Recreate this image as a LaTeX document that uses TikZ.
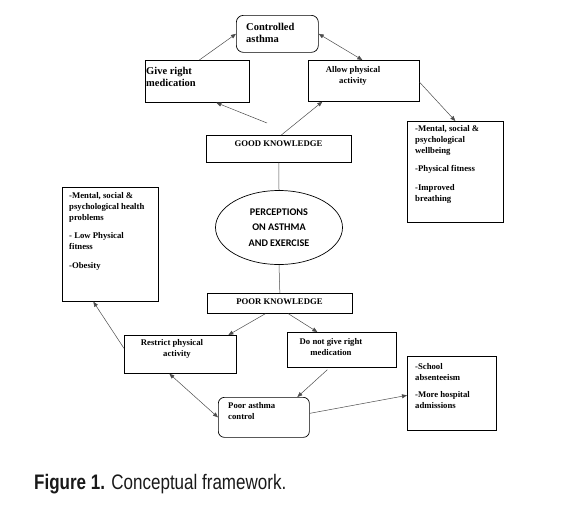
\documentclass[tikz,border=0pt]{standalone}
\usepackage{fontspec}
\usepackage{graphicx}
\setmainfont{Liberation Serif}
\newfontfamily\carlitofont{Carlito}
\newfontfamily\capfont{Liberation Sans}
\usetikzlibrary{arrows.meta,calc,shapes.geometric}
\begin{document}
\begin{tikzpicture}[x=1pt,y=-1pt,
  box/.style={draw=black,line width=0.7pt,inner sep=0,anchor=north west},
  rbox/.style={box,rounded corners=7pt},
  txt/.style={inner sep=0,align=left,anchor=north west,font=\bfseries\fontsize{8.7}{11}\selectfont},
  bigtxt/.style={txt,font=\bfseries\fontsize{10.5}{12.5}\selectfont},
  ctxt/.style={txt,align=center,anchor=north},
  conn/.style={draw=black!70,line width=0.5pt},
  arr/.style={conn,-{Triangle[length=5pt,width=4pt]}},
  darr/.style={conn,{Triangle[length=5pt,width=4pt]}-{Triangle[length=5pt,width=4pt]}}]
\useasboundingbox (0,0) rectangle (569,504);
% boxes
\node[rbox,minimum width=82pt,minimum height=37pt] (ca) at (236,15) {};
\node[box,minimum width=104pt,minimum height=42pt] (gm) at (145,60) {};
\node[box,minimum width=111pt,minimum height=41pt] (ap) at (308,60) {};
\node[box,minimum width=96pt,minimum height=101pt] (rb) at (407,121) {};
\node[box,minimum width=145pt,minimum height=27pt] (gk) at (206,135) {};
\node[draw=black,line width=0.7pt,ellipse,minimum width=127pt,minimum height=74pt,inner sep=0,
      align=center,font=\carlitofont\bfseries\fontsize{10.2}{15.5}\selectfont] (pe) at (279,227.5)
      {PERCEPTIONS\\ON ASTHMA\\AND EXERCISE};
\node[box,minimum width=96pt,minimum height=114pt] (lb) at (62,187) {};
\node[box,minimum width=145pt,minimum height=20pt] (pk) at (207,293) {};
\node[box,minimum width=112pt,minimum height=38pt] (rp) at (124,335) {};
\node[box,minimum width=109pt,minimum height=35pt] (dn) at (287,332) {};
\node[rbox,rounded corners=6pt,minimum width=91pt,minimum height=40pt] (pc) at (218,397) {};
\node[box,minimum width=89pt,minimum height=74pt] (br) at (407,356) {};
% texts
\node[bigtxt] (cat) at (246,23) {Controlled\\asthma};
\node[bigtxt] (gmt) at (146,67) {Give right\\medication};
\node[ctxt] (apt) at (353,66) {Allow physical\\activity};
\node[txt] (rbt) at (415,125) {-Mental, social \&\\psychological\\wellbeing\\[7.5pt]-Physical fitness\\[7.5pt]-Improved\\breathing};
\node[ctxt] (gkt) at (278.5,141) {GOOD KNOWLEDGE};
\node[txt] (lbt) at (69,192) {-Mental, social \&\\psychological health\\problems\\[7pt]- Low Physical\\fitness\\[8pt]-Obesity};
\node[ctxt] (pkt) at (279.5,299) {POOR KNOWLEDGE};
\node[ctxt] (rpt) at (172,339) {Restrict physical\\\hspace*{10pt}activity};
\node[ctxt] (dnt) at (331,338) {Do not give right\\medication};
\node[txt] (pct) at (228,402) {Poor asthma\\control};
\node[txt] (brt) at (415,363) {-School\\absenteeism\\[6pt]-More hospital\\admissions};
% caption
\node[anchor=base west,inner sep=0,text=black!90] (cap) at (34,489)
  {\capfont\fontsize{21}{21}\selectfont\scalebox{0.81}[1]{\textbf{Figure 1.} Conceptual framework.}};
% connectors
\coordinate (gkfree) at (267,123);
\draw[arr] ([xshift=2pt]gm.north) -- (ca.west);
\draw[darr] (ca.east) -- ([xshift=-1.5pt]ap.north);
\draw[arr] (gkfree) -- ([xshift=19pt]gm.south);
\draw[arr] ([xshift=2.5pt]gk.north) -- ([xshift=-41.5pt]ap.south);
\draw[arr] ([yshift=-1.5pt]ap.east) -- (rb.north);
\draw[conn] (gk.south) -- (pe.north);
\draw[conn] (pe.south) -- (pk.north);
\draw[arr] ([xshift=-14.5pt]pk.south) -- ([xshift=48pt]rp.north);
\draw[arr] ([xshift=8.5pt]pk.south) -- ([xshift=-24.5pt]dn.north);
\draw[arr] ([yshift=6pt]rp.west) -- ([xshift=-17pt]lb.south);
\draw[darr] ([xshift=-11pt]rp.south) -- (pc.west);
\draw[arr] ([xshift=-14.5pt,yshift=-2pt]dn.south) -- ([xshift=33.5pt]pc.north);
\draw[arr] ([yshift=4pt]pc.east) -- ([yshift=-2pt]br.west);
\end{tikzpicture}
\end{document}
